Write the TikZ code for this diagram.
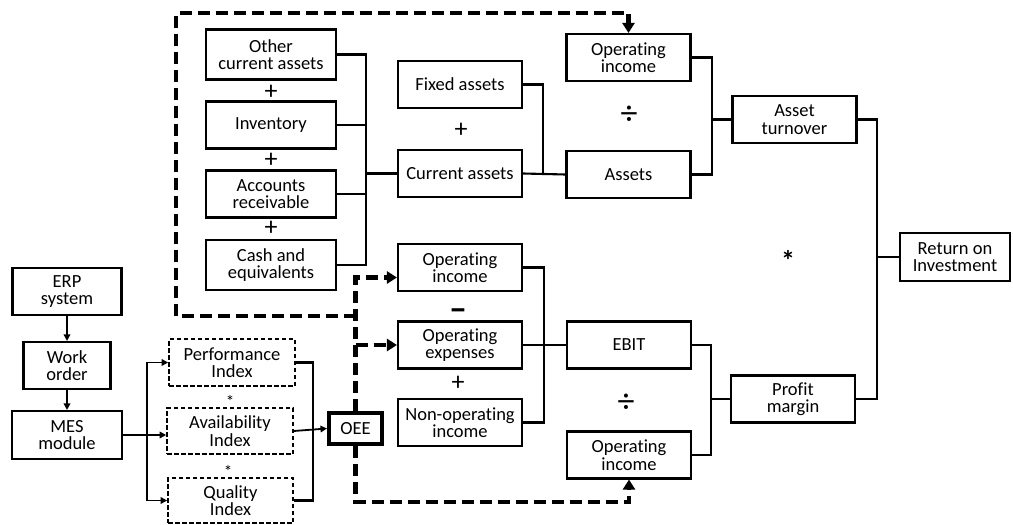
\documentclass[tikz,border=0pt]{standalone}
\usepackage{fontspec}
\setmainfont{Carlito}[Ligatures={NoCommon}]
\usepackage{tikz}
\usetikzlibrary{arrows.meta}

\tikzset{
  box/.style={draw, line width=2.1pt, align=center, inner sep=0pt,
    minimum width=124pt, minimum height=47pt,
    font=\fontsize{18.5}{17.5}\selectfont},
  dbox/.style={box, line width=1.6pt, dash pattern=on 4.5pt off 2.5pt},
  link/.style={line width=2.1pt},
  arr/.style={line width=1.8pt, -{Triangle[length=6.5pt,width=6.5pt]}},
  feed/.style={line width=4.2pt, dash pattern=on 12pt off 6pt,
    -{Triangle[length=10pt,width=12pt]}},
  op/.style={inner sep=0pt, font=\fontsize{26}{26}\selectfont},
}

\begin{document}
\begin{tikzpicture}[x=1pt, y=-1pt]
\useasboundingbox (0,0) rectangle (1013,525);

% Draw the asset side
\node[box, minimum width=130pt, minimum height=50pt] (oca) at (271,54.5) {Other\\current assets};
\node[box, minimum width=130pt] (inv) at (271,125) {Inventory};
\node[box, minimum width=130pt] (ar) at (271,194) {Accounts\\receivable};
\node[box, minimum width=130pt, minimum height=50pt] (cash) at (271,265) {Cash and\\equivalents};
\node[box] (fa) at (460,84.5) {Fixed assets};
\node[box] (ca) at (460,173.5) {Current assets};
\node[box] (oi1) at (628.5,57.5) {Operating\\income};
\node[box] (as) at (628.5,174.5) {Assets};
\node[box] (at) at (794.5,119.5) {Asset\\turnover};

% Draw the profit side
\node[box] (oi2) at (460,267.5) {Operating\\income};
\node[box] (opex) at (460,345) {Operating\\expenses};
\node[box] (nonop) at (460,422.5) {Non-operating\\income};
\node[box] (ebit) at (629,345) {EBIT};
\node[box] (oi4) at (629,455) {Operating\\income};
\node[box] (pm) at (793,399) {Profit\\margin};
\node[box, minimum width=110pt, minimum height=48pt] (roi) at (955,257) {Return on\\Investment};

% Draw the shop floor
\node[box, minimum width=109pt] (erp) at (67,291.5) {ERP\\system};
\node[box, minimum width=87pt] (wo) at (67,365.5) {Work\\order};
\node[box, minimum width=110pt, minimum height=48pt] (mes) at (67,435) {MES\\module};
\node[dbox, minimum width=126pt] (pi) at (232,362.5) {Performance\\Index};
\node[dbox, minimum width=126pt, minimum height=46pt] (ai) at (230,431) {Availability\\Index};
\node[dbox, minimum width=125pt, minimum height=45pt] (qi) at (230.5,500.5) {Quality\\Index};
\node[box, line width=4pt, minimum width=53pt, minimum height=31pt] (oee) at (355.5,428.5) {OEE};

% Operators between the boxes
\foreach \y [count=\i] in {92,160,228}
  \node[op] (plus\i) at (271,\y) {+};
\node[op] (plus4) at (461,130) {+};
\node[op] (plus5) at (458,383) {+};
\node[op, font=\fontsize{36}{36}\selectfont\bfseries] (minus) at (458,315) {\textendash};
\node[op, font=\fontsize{34}{34}\selectfont] (div1) at (629,115) {÷};
\node[op, font=\fontsize{34}{34}\selectfont] (div2) at (626,403) {÷};
\node[op, font=\fontsize{28}{28}\selectfont\bfseries] (times1) at (788,260) {*};
\node[op, font=\fontsize{17}{17}\selectfont] (times2) at (230,401) {*};
\node[op, font=\fontsize{17}{17}\selectfont] (times3) at (228,471) {*};

% Junctions
\coordinate (b1) at (366,173.5);
\coordinate (b2) at (543,173.5);
\coordinate (b3) at (712,119.5);
\coordinate (b4) at (877,257);
\coordinate (b5) at (544,345);
\coordinate (b6) at (711,399);
\coordinate (b7) at (147,435);
\coordinate (b8) at (313,431);

% Sum and ratio links
\draw[link] (oca.east) -| (b1) -- (ca.west);
\draw[link] (cash.east) -| (b1);
\foreach \n in {inv, ar}
  \draw[link] (\n.east) -- (\n.east -| b1);
\draw[link] (fa.east) -| (b2);
\draw[link] (ca.east) -- (as.west);
\draw[link] (oi1.east) -| (b3) |- (as.east);
\draw[link] (b3) -- (at.west);
\draw[link] (at.east) -| (b4) |- (pm.east);
\draw[link] (b4) -- (roi.west);
\draw[link] (oi2.east) -| (b5) |- (nonop.east);
\draw[link] (opex.east) -- (ebit.west);
\draw[link] (ebit.east) -| (b6) |- (oi4.east);
\draw[link] (b6) -- (pm.west);

% Shop floor links
\draw[arr] (erp) -- (wo);
\draw[arr] (wo) -- (mes);
\draw[link] (mes.east) -- (b7);
\draw[arr] (b7) |- (pi.west);
\draw[arr] (b7) |- (qi.west);
\draw[arr] (b7) -- (ai.west |- b7);
\draw[link] (pi.east) -| (b8) |- (qi.east);
\draw[arr] (ai.east) -- (oee.west);

% OEE feeds back into the figures
\coordinate (j1) at (355.5,316);
\coordinate (c1) at (176,13);
\coordinate (c2) at (355.5,502);
\draw[feed] (oee.north) |- ([yshift=-10pt]oi2.west);
\draw[feed] (oee.north |- opex.west) -- (opex.west);
\draw[feed] (j1) -| (c1) -| (oi1.north);
\draw[feed] (oee.south) -- (c2) -| (oi4.south);

\end{tikzpicture}
\end{document}
